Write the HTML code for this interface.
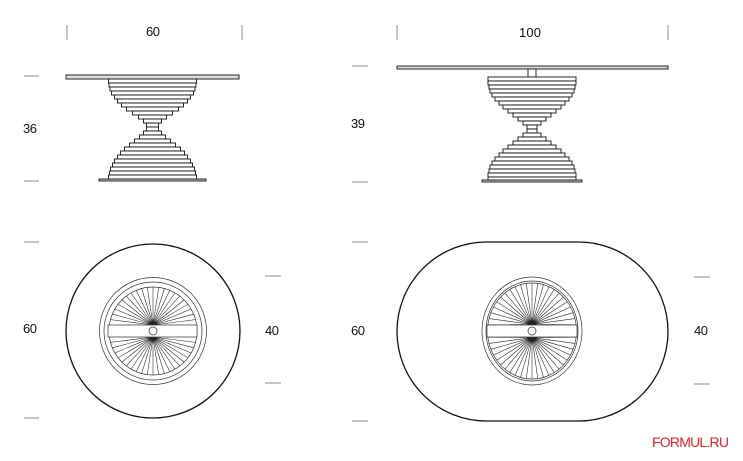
<!DOCTYPE html>
<html><head><meta charset="utf-8"><style>
html,body{margin:0;padding:0;background:#fff;width:743px;height:461px;overflow:hidden}
svg text{font-family:"Liberation Sans",sans-serif;font-size:13px;fill:#111}
</style></head><body>
<svg width="743" height="461" viewBox="0 0 743 461" xmlns="http://www.w3.org/2000/svg">
<defs>
<path id="spk" fill="none" stroke="#222" stroke-width="0.55" d="
M0 -6 L44 0 M0 -6 L43.6 -5.7 M0 -6 L42.5 -11.4 M0 -6 L40.7 -16.8 M0 -6 L38.1 -22 M0 -6 L34.9 -26.8 M0 -6 L31.1 -31.1 M0 -6 L26.8 -34.9 M0 -6 L22 -38.1 M0 -6 L16.8 -40.7 M0 -6 L11.4 -42.5 M0 -6 L5.7 -43.6 M0 -6 L0 -44
M0 -6 L-44 0 M0 -6 L-43.6 -5.7 M0 -6 L-42.5 -11.4 M0 -6 L-40.7 -16.8 M0 -6 L-38.1 -22 M0 -6 L-34.9 -26.8 M0 -6 L-31.1 -31.1 M0 -6 L-26.8 -34.9 M0 -6 L-22 -38.1 M0 -6 L-16.8 -40.7 M0 -6 L-11.4 -42.5 M0 -6 L-5.7 -43.6
M0 6 L44 0 M0 6 L43.6 5.7 M0 6 L42.5 11.4 M0 6 L40.7 16.8 M0 6 L38.1 22 M0 6 L34.9 26.8 M0 6 L31.1 31.1 M0 6 L26.8 34.9 M0 6 L22 38.1 M0 6 L16.8 40.7 M0 6 L11.4 42.5 M0 6 L5.7 43.6 M0 6 L0 44
M0 6 L-44 0 M0 6 L-43.6 5.7 M0 6 L-42.5 11.4 M0 6 L-40.7 16.8 M0 6 L-38.1 22 M0 6 L-34.9 26.8 M0 6 L-31.1 31.1 M0 6 L-26.8 34.9 M0 6 L-22 38.1 M0 6 L-16.8 40.7 M0 6 L-11.4 42.5 M0 6 L-5.7 43.6"/>
</defs>

<g stroke="#888" stroke-width="1">
<line x1="67" y1="25" x2="67" y2="40"/><line x1="242" y1="25" x2="242" y2="40"/>
<line x1="397" y1="25" x2="397" y2="40"/><line x1="668" y1="25" x2="668" y2="40"/>
<line x1="24" y1="76" x2="39" y2="76"/><line x1="24" y1="181" x2="39" y2="181"/>
<line x1="24" y1="242" x2="39" y2="242"/><line x1="24" y1="418" x2="39" y2="418"/>
<line x1="265" y1="276" x2="281" y2="276"/><line x1="265" y1="383" x2="281" y2="383"/>
<line x1="352" y1="66" x2="368" y2="66"/><line x1="352" y1="182" x2="368" y2="182"/>
<line x1="352" y1="242" x2="368" y2="242"/><line x1="352" y1="421" x2="368" y2="421"/>
<line x1="694" y1="277" x2="710" y2="277"/><line x1="694" y1="384" x2="710" y2="384"/>
</g>
<text x="146" y="36" textLength="14">60</text>
<text x="519" y="37" textLength="22">100</text>
<text x="23" y="133" textLength="14">36</text>
<text x="23" y="333" textLength="14">60</text>
<text x="265" y="335" textLength="14">40</text>
<text x="351" y="128" textLength="14">39</text>
<text x="351" y="335" textLength="14">60</text>
<text x="694" y="335" textLength="14">40</text>
<text x="652" y="447" textLength="77" style="fill:#ee1c24;font-size:14px">FORMUL.RU</text>

<g fill="#fff" stroke="#111" stroke-width="0.9">
<rect x="66" y="75" width="173" height="4" fill="#ddd"/>
<rect x="108.5" y="79" width="88" height="4"/><rect x="109" y="83" width="87" height="4"/>
<rect x="110" y="87" width="85" height="4"/><rect x="111.5" y="91" width="82" height="4"/>
<rect x="114.5" y="95" width="76" height="4"/><rect x="117.5" y="99" width="70" height="4"/>
<rect x="121.5" y="103" width="62" height="4"/><rect x="126.5" y="107" width="52" height="4"/>
<rect x="132.5" y="111" width="40" height="4"/><rect x="138.5" y="115" width="28" height="4"/>
<rect x="143.5" y="119" width="18" height="4"/><rect x="146.5" y="123" width="12" height="4"/>
<rect x="146.5" y="127" width="12" height="4"/><rect x="143.5" y="131" width="18" height="4"/>
<rect x="139.5" y="135" width="26" height="4"/><rect x="134.5" y="139" width="36" height="4"/>
<rect x="129.5" y="143" width="46" height="4"/><rect x="124.5" y="147" width="56" height="4"/>
<rect x="120.5" y="151" width="64" height="4"/><rect x="117.5" y="155" width="70" height="4"/>
<rect x="114.5" y="159" width="76" height="4"/><rect x="112.5" y="163" width="80" height="4"/>
<rect x="110.5" y="167" width="84" height="4"/><rect x="109.5" y="171" width="86" height="4"/>
<rect x="108.5" y="175" width="88" height="4"/>
<rect x="99" y="179" width="107" height="2" fill="#ccc"/>
</g>

<g fill="#fff" stroke="#111" stroke-width="0.9">
<rect x="397" y="66" width="271" height="3" fill="#ddd"/>
<rect x="528" y="69" width="8" height="8"/>
<rect x="488" y="77" width="88" height="4"/><rect x="488" y="81" width="88" height="4"/>
<rect x="489" y="85" width="86" height="4"/><rect x="490" y="89" width="84" height="4"/>
<rect x="492" y="93" width="80" height="4"/><rect x="495" y="97" width="74" height="4"/>
<rect x="499" y="101" width="66" height="4"/><rect x="503" y="105" width="58" height="4"/>
<rect x="508" y="109" width="48" height="4"/><rect x="513" y="113" width="38" height="4"/>
<rect x="518" y="117" width="28" height="4"/><rect x="523" y="121" width="18" height="4"/>
<rect x="527" y="125" width="10" height="4"/>
<rect x="527" y="129" width="10" height="4"/><rect x="523" y="133" width="18" height="4"/>
<rect x="518" y="137" width="28" height="4"/><rect x="513" y="141" width="38" height="4"/>
<rect x="508" y="145" width="48" height="4"/><rect x="503" y="149" width="58" height="4"/>
<rect x="499" y="153" width="66" height="4"/><rect x="495" y="157" width="74" height="4"/>
<rect x="492" y="161" width="80" height="4"/><rect x="490" y="165" width="84" height="4"/>
<rect x="489" y="169" width="86" height="4"/><rect x="488" y="173" width="88" height="4"/>
<rect x="488" y="177" width="88" height="3"/>
<rect x="482" y="180" width="100" height="2" fill="#ccc"/>
</g>

<circle cx="153" cy="331" r="87" fill="none" stroke="#111" stroke-width="1.3"/>
<circle cx="153" cy="331" r="53.5" fill="none" stroke="#333" stroke-width="0.7"/>
<circle cx="153" cy="331" r="49" fill="none" stroke="#333" stroke-width="0.7"/>
<circle cx="153" cy="331" r="44" fill="none" stroke="#333" stroke-width="0.7"/>
<use href="#spk" transform="translate(153,331)"/>
<rect x="108" y="325" width="89" height="12" fill="#fff" stroke="#333" stroke-width="0.7"/>
<circle cx="153" cy="331" r="4" fill="#fff" stroke="#333" stroke-width="0.7"/>

<rect x="397" y="242" width="271" height="179" rx="89.5" ry="89.5" fill="none" stroke="#111" stroke-width="1.3"/>
<ellipse cx="532" cy="331" rx="50" ry="54" fill="none" stroke="#333" stroke-width="0.7"/>
<ellipse cx="532" cy="331" rx="46" ry="50" fill="none" stroke="#333" stroke-width="0.7"/>
<ellipse cx="532" cy="331" rx="44.5" ry="48" fill="none" stroke="#333" stroke-width="0.7"/>
<use href="#spk" transform="translate(532,331) scale(1.01,1.09)"/>
<rect x="487" y="325" width="90" height="12" fill="#fff" stroke="#333" stroke-width="0.7"/>
<circle cx="532" cy="331" r="4" fill="#fff" stroke="#333" stroke-width="0.7"/>
</svg>
</body></html>
